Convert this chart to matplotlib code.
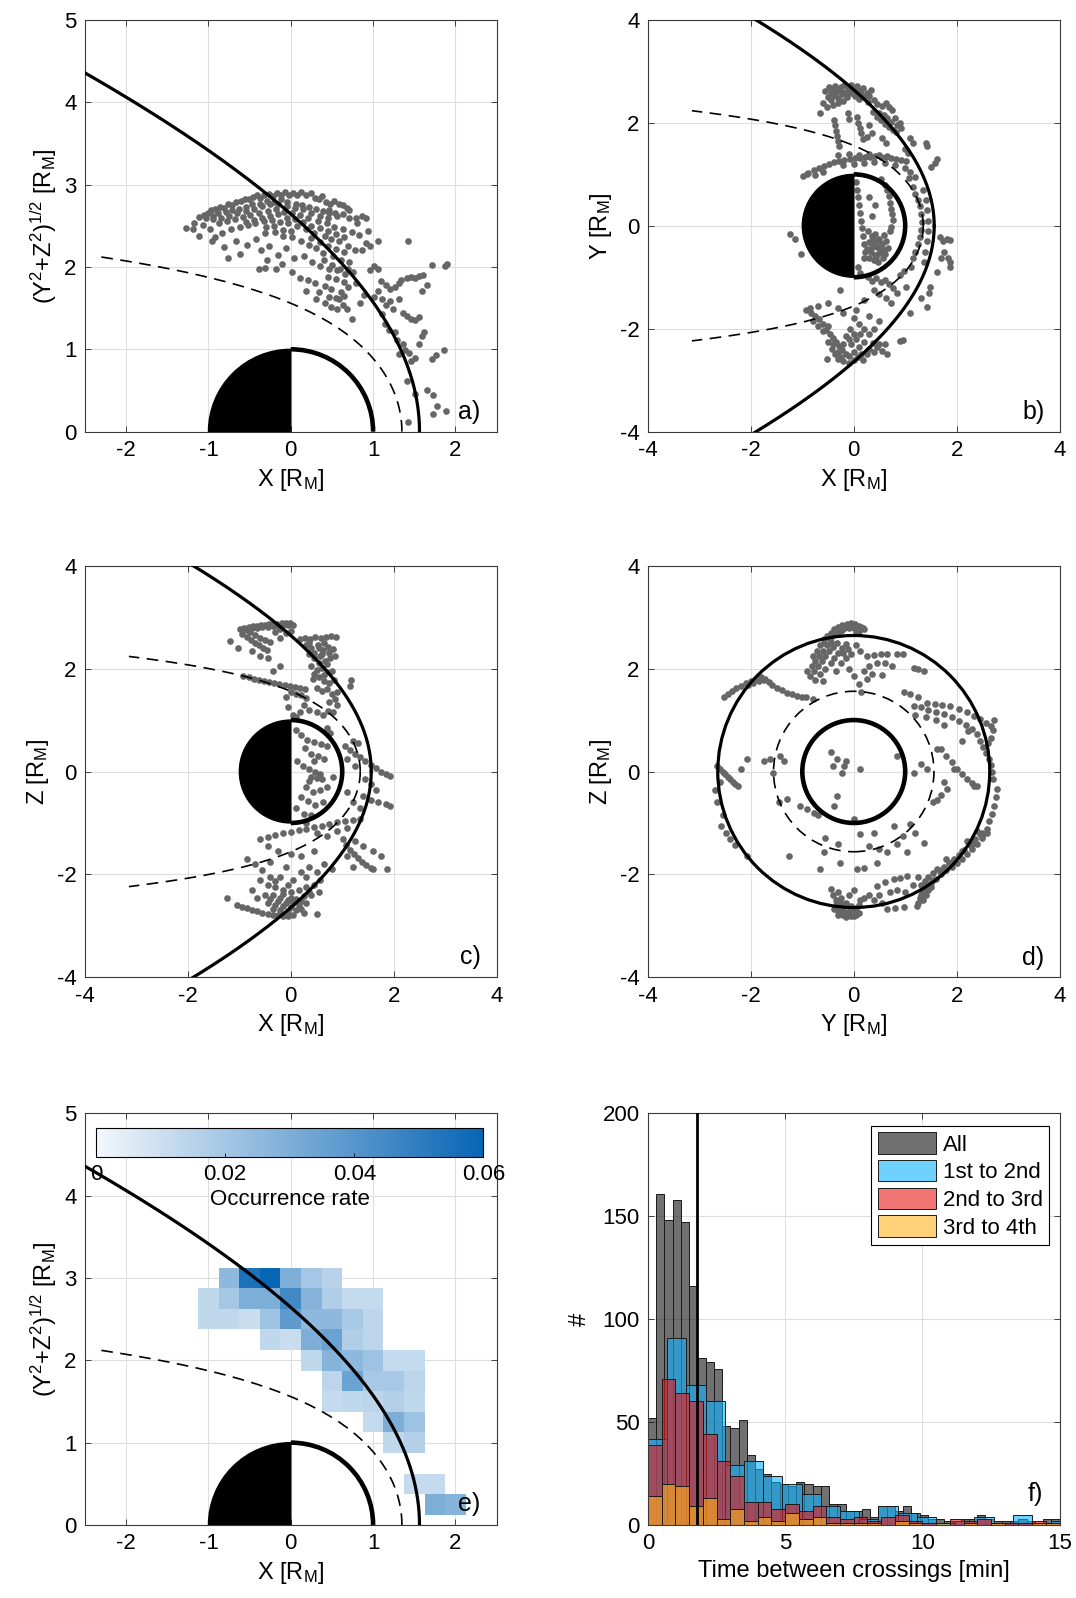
import numpy as np
import matplotlib
matplotlib.use('Agg')
import matplotlib.pyplot as plt
from matplotlib.patches import Wedge, Arc, Circle
from matplotlib.colors import LinearSegmentedColormap

plt.rcParams['font.family'] = ['Liberation Sans', 'DejaVu Sans']
plt.rcParams['mathtext.default'] = 'regular'
plt.rcParams['axes.unicode_minus'] = False

# ---- boundary model parameters (R_M) ----
bs_x0, bs_ecc, bs_L = 0.5, 1.04, 2.17          # bow shock conic
mp_x0, mp_r0, mp_alpha = 0.5, 0.85, 0.62       # magnetopause (Shue-type)

# ---- crossing locations: a) X vs sqrt(Y^2+Z^2) ----
pts_a = np.array([
    (-1.06, 2.63), (-1.01, 2.66), (-0.97, 2.69), (-0.92, 2.70), (-0.86, 2.73), (-0.81, 2.72),
    (-0.76, 2.76), (-0.71, 2.75), (-0.66, 2.79), (-0.61, 2.80), (-0.56, 2.83), (-0.51, 2.82),
    (-0.46, 2.85), (-0.41, 2.87), (-0.37, 2.84), (-0.32, 2.88), (-0.27, 2.89), (-0.22, 2.86),
    (-0.17, 2.90), (-0.12, 2.88), (-0.07, 2.91), (-0.02, 2.87), (0.03, 2.90), (0.08, 2.88),
    (0.13, 2.91), (0.18, 2.87), (0.24, 2.90), (0.29, 2.84), (0.34, 2.82), (0.38, 2.86),
    (0.43, 2.79), (0.48, 2.77), (0.53, 2.80), (0.58, 2.76), (0.64, 2.75), (0.68, 2.72),
    (-1.12, 2.61), (-1.03, 2.59), (-0.94, 2.62), (-0.88, 2.66), (-0.79, 2.67), (-0.72, 2.69),
    (-0.63, 2.71), (-0.54, 2.73), (-0.47, 2.76), (-0.38, 2.77), (-0.29, 2.80), (-0.21, 2.79),
    (-0.12, 2.82), (-0.04, 2.79), (0.06, 2.77), (0.14, 2.75), (0.22, 2.73), (0.31, 2.71),
    (0.39, 2.68), (0.47, 2.65), (0.56, 2.62), (0.63, 2.64), (0.71, 2.60), (0.79, 2.59),
    (0.86, 2.62), (0.91, 2.60),
    (-1.19, 2.46), (-1.07, 2.51), (-0.98, 2.46), (-0.87, 2.53), (-0.77, 2.56), (-0.68, 2.58),
    (-0.58, 2.61), (-0.49, 2.63), (-0.39, 2.66), (-0.28, 2.68), (-0.18, 2.71), (-0.08, 2.67),
    (0.02, 2.65), (0.11, 2.63), (0.21, 2.59), (0.33, 2.56), (0.44, 2.53), (0.53, 2.49),
    (0.63, 2.46), (0.74, 2.43), (0.83, 2.39),
    (-0.92, 2.36), (-0.83, 2.41), (-0.73, 2.46), (-0.62, 2.48), (-0.52, 2.51), (-0.43, 2.53),
    (-0.33, 2.56), (-0.23, 2.57), (-0.13, 2.55), (-0.03, 2.53), (0.08, 2.50), (0.18, 2.46),
    (0.28, 2.41), (0.41, 2.38), (0.49, 2.34), (0.58, 2.31), (0.69, 2.26), (0.78, 2.21),
    (-0.66, 2.31), (-0.53, 2.27), (-0.42, 2.34), (-0.31, 2.41), (-0.19, 2.43), (-0.09, 2.38),
    (0.01, 2.36), (0.12, 2.31), (0.22, 2.27), (0.31, 2.23), (0.39, 2.17), (0.51, 2.13),
    (0.61, 2.09), (0.71, 2.06),
    (-0.36, 2.21), (-0.26, 2.26), (-0.16, 2.14), (-0.06, 2.23), (0.04, 2.11), (0.16, 2.13),
    (0.26, 2.06), (0.36, 2.01), (0.46, 1.97), (0.56, 1.96), (0.66, 1.91), (0.76, 1.94),
    (-0.31, 1.99), (-0.18, 1.97), (0.01, 1.94), (0.11, 1.87), (0.21, 1.84), (0.29, 1.81),
    (0.41, 1.77), (0.49, 1.73), (0.61, 1.69), (0.69, 1.76), (0.79, 1.81),
    (0.31, 1.61), (0.41, 1.56), (0.49, 1.51), (0.59, 1.61), (0.68, 1.49), (0.74, 1.37),
    (0.84, 1.56), (0.89, 1.66),
    (-0.95, 2.58), (-0.85, 2.60), (-0.75, 2.62), (-0.65, 2.66), (-0.55, 2.68), (-0.45, 2.70),
    (-0.35, 2.74), (-0.25, 2.76), (-0.15, 2.76), (-0.05, 2.74), (0.05, 2.72), (0.15, 2.70),
    (0.25, 2.66), (0.35, 2.62), (0.45, 2.60), (-0.55, 2.55), (-0.45, 2.57), (-0.35, 2.60),
    (-0.25, 2.62), (-0.15, 2.64), (-0.05, 2.60), (0.05, 2.58), (0.15, 2.55), (0.25, 2.50),
    (0.35, 2.47), (0.45, 2.44), (0.55, 2.40), (0.65, 2.36), (0.25, 2.35), (0.35, 2.30),
    (0.45, 2.26), (0.55, 2.22), (0.65, 2.18), (0.40, 2.08), (0.50, 2.02), (0.60, 1.98),
    (0.70, 1.98), (0.45, 1.88), (0.55, 1.85), (0.65, 1.82), (0.55, 1.62), (0.65, 1.65),
    (-0.10, 2.45), (0.00, 2.44), (-0.20, 2.50), (-0.30, 2.48),
    (0.96, 1.96), (1.01, 2.01), (1.06, 1.97), (1.09, 1.83), (1.16, 1.78), (1.21, 1.73),
    (1.26, 1.76), (1.31, 1.81), (1.34, 1.84), (1.41, 1.86), (1.46, 1.88), (1.51, 1.87),
    (1.56, 1.89), (1.61, 1.90), (1.71, 2.02), (1.87, 2.01), (1.90, 2.03), (1.01, 1.64),
    (1.06, 1.71), (1.11, 1.61), (1.16, 1.54), (1.21, 1.59), (1.24, 1.49), (1.31, 1.61),
    (1.36, 1.44), (1.41, 1.41), (1.46, 1.37), (1.51, 1.36), (1.56, 1.39), (0.96, 2.26),
    (1.06, 2.31), (1.42, 2.31), (0.86, 2.21), (1.59, 1.71), (1.66, 1.78),
    (1.11, 1.43), (1.14, 1.31), (1.19, 1.24), (1.26, 1.21), (1.29, 1.11), (1.36, 1.06),
    (1.39, 0.99), (1.44, 0.96), (1.51, 0.89), (1.56, 1.06), (1.59, 1.16), (1.62, 1.21),
    (1.31, 0.94), (1.46, 0.86), (1.41, 0.61), (1.51, 0.46), (1.66, 0.51), (1.73, 0.44),
    (1.78, 0.31), (1.88, 0.25), (1.42, 0.12), (1.73, 0.21), (1.86, 0.99), (1.72, 0.88),
    (1.76, 0.93),
    (-1.27, 2.47), (-1.17, 2.53), (-1.11, 2.38), (-0.96, 2.31), (-0.81, 2.24), (-0.76, 2.11),
    (-0.62, 2.16), (-0.39, 1.97), (-0.29, 2.09), (-0.11, 2.04), (0.19, 1.71), (0.34, 1.69),
    (0.46, 1.64), (0.56, 1.49), (0.64, 1.54), (0.46, 2.69), (0.54, 2.66), (0.71, 2.69),
    (0.81, 2.54), (0.94, 2.44), (0.91, 2.29),
])

# ---- b) X vs Y ----
pts_b = np.array([
    (-0.55, 2.62), (-0.48, 2.70), (-0.42, 2.66), (-0.36, 2.72), (-0.30, 2.64), (-0.24, 2.70),
    (-0.18, 2.74), (-0.12, 2.68), (-0.06, 2.73), (0.00, 2.66), (0.06, 2.71), (0.12, 2.62),
    (0.18, 2.67), (0.25, 2.58), (0.30, 2.52), (0.34, 2.64), (-0.50, 2.50), (-0.44, 2.44),
    (-0.38, 2.55), (-0.30, 2.48), (-0.22, 2.56), (-0.14, 2.50), (-0.06, 2.58), (0.02, 2.52),
    (0.10, 2.46), (0.20, 2.50), (-0.60, 2.38), (-0.66, 2.20), (-0.52, 2.30), (0.40, 2.44),
    (0.46, 2.36), (0.55, 2.32), (0.62, 2.38), (0.68, 2.30), (0.75, 2.26),
    (-0.45, 2.58), (-0.35, 2.60), (-0.25, 2.62), (-0.15, 2.60), (-0.05, 2.64), (0.05, 2.60),
    (0.15, 2.56), (-0.40, 2.35), (-0.30, 2.38), (-0.20, 2.42), (0.28, 2.40), (0.50, 2.20),
    (0.58, 2.15), (0.65, 2.10), (0.72, 2.02), (0.80, 2.10), (0.85, 1.95),
    (-0.38, 2.05), (-0.36, 1.95), (-0.34, 1.85), (-0.32, 1.75), (-0.30, 1.65), (-0.28, 1.56),
    (0.06, 2.12), (0.09, 2.00), (0.12, 1.90), (0.15, 1.80), (0.18, 1.68), (-0.12, 2.20),
    (-0.10, 2.08), (0.38, 2.22), (0.45, 2.12), (0.52, 2.05), (0.60, 1.98), (0.68, 1.92),
    (0.76, 1.86), (0.83, 1.82), (0.90, 2.00), (0.92, 1.90), (1.16, 1.60), (1.10, 1.70),
    (1.40, 1.60), (1.43, 1.55), (1.62, 1.30), (1.58, 1.22), (1.50, 1.15), (0.30, 1.95),
    (0.36, 1.80), (0.25, 1.72), (0.55, 1.70), (0.62, 1.60), (1.00, 1.50), (1.05, 1.42),
    (-0.98, 0.96), (-0.88, 1.02), (-0.78, 1.08), (-0.68, 1.12), (-0.58, 1.16), (-0.48, 1.20),
    (-0.38, 1.24), (-0.28, 1.26), (-0.18, 1.28), (-0.08, 1.30), (0.02, 1.31), (0.12, 1.32),
    (0.22, 1.33), (0.32, 1.34), (0.42, 1.35), (0.52, 1.34), (0.62, 1.33), (0.72, 1.32),
    (0.82, 1.30), (0.92, 1.28), (1.02, 1.26), (-0.30, 1.38), (-0.10, 1.40), (0.10, 1.38),
    (0.30, 1.40), (0.50, 1.38), (0.64, 1.36), (-0.20, 1.18), (0.00, 1.20), (0.20, 1.22),
    (0.40, 1.24), (0.60, 1.22), (0.80, 1.18), (1.00, 1.12), (1.10, 1.05), (1.20, 0.95),
    (-0.60, 1.05), (-0.75, 0.98),
    (0.05, 0.85), (0.06, 0.70), (0.08, 0.55), (0.10, 0.40), (0.12, 0.25), (0.14, 0.10),
    (0.16, -0.05), (0.18, -0.20), (0.20, -0.35), (0.22, -0.50), (0.20, -0.62), (0.08, -0.80),
    (0.12, -0.92), (0.68, 0.57), (0.70, 0.45), (0.72, 0.33), (0.74, 0.22), (0.76, 0.11),
    (0.72, -0.02), (0.65, 0.70), (0.60, 0.80), (0.52, 0.90),
    (0.28, -0.10), (0.35, -0.20), (0.42, -0.15), (0.50, -0.25), (0.58, -0.18), (0.30, -0.32),
    (0.38, -0.38), (0.46, -0.42), (0.54, -0.36), (0.62, -0.30), (0.34, -0.50), (0.42, -0.56),
    (0.50, -0.52), (0.58, -0.48), (0.66, -0.44), (0.40, -0.66), (0.48, -0.70), (0.56, -0.62),
    (0.30, -0.62), (0.26, -0.45), (0.70, -0.10), (0.36, 0.20), (0.42, 0.40), (0.30, 0.55),
    (0.45, -0.30), (0.52, -0.45), (0.38, -0.25), (0.60, -0.55), (0.44, -0.60), (0.36, -0.42),
    (1.16, 0.76), (1.20, 0.62), (1.24, 0.50), (1.28, 0.38), (1.30, 0.22), (1.32, 0.08),
    (1.30, -0.08), (1.28, -0.22), (1.25, -0.36), (1.20, -0.50), (1.16, -0.62), (1.40, 0.50),
    (1.42, 0.30), (1.44, 0.10), (1.44, -0.10), (1.42, -0.30), (1.38, -0.50), (1.08, 0.92),
    (1.12, -0.80), (1.34, 0.70), (1.36, -0.70),
    (1.67, -0.21), (1.74, -0.30), (1.82, -0.26), (1.88, -0.28), (1.76, -0.50), (1.84, -0.62),
    (1.88, -0.80), (1.88, -0.70), (1.70, -0.62), (1.62, -0.90),
    (0.28, -1.00), (0.36, -1.08), (0.44, -1.02), (0.52, -1.10), (0.60, -1.06), (0.68, -1.14),
    (0.76, -1.20), (0.84, -1.30), (0.40, -1.25), (0.50, -1.32), (0.62, -1.40), (0.72, -1.50),
    (0.90, -0.95), (0.98, -0.88), (-0.27, -1.25), (0.05, -1.64), (1.43, -1.57), (1.49, -1.19),
    (1.30, -1.40), (1.10, -1.70), (1.46, -1.30), (1.02, -1.18),
    (-0.92, -1.64), (-0.84, -1.70), (-0.76, -1.76), (-0.68, -1.82), (-0.60, -1.90), (-0.80, -1.85),
    (-0.70, -1.95), (-0.53, -2.02), (-0.46, -2.10), (-0.40, -2.18), (-0.34, -2.26), (-0.28, -2.34),
    (-0.22, -2.42), (-0.16, -2.50), (-0.10, -2.54), (-0.50, -2.25), (-0.42, -2.40), (-0.36, -2.50),
    (-0.30, -2.58), (-0.20, -2.62), (-0.10, -2.66), (0.00, -2.60), (0.08, -2.55), (0.18, -2.60),
    (0.25, -2.50), (0.00, -2.45), (-0.05, -2.30), (0.05, -2.20), (0.12, -2.10), (0.20, -2.00),
    (0.10, -1.90), (0.00, -1.80), (-0.08, -2.00), (-0.15, -2.15), (0.38, -2.28), (0.46, -2.36),
    (0.54, -2.44), (0.60, -2.30), (0.64, -2.50), (0.30, -2.40), (0.96, -2.22), (0.90, -2.24),
    (-0.52, -2.58), (0.40, -2.00), (0.50, -1.85), (0.30, -1.75), (-0.20, -1.70), (-0.30, -1.60),
    (0.20, -1.45), (-0.50, -1.50),
    (-0.40, -2.30), (-0.30, -2.45), (-0.20, -2.30), (-0.10, -2.20), (0.00, -2.10), (0.10, -2.35),
    (0.20, -2.25), (-0.60, -2.05), (-0.50, -1.95), (0.30, -2.10), (0.40, -2.45), (0.50, -2.30),
    (0.15, -2.50), (-0.25, -2.55),
    (-1.24, -0.15), (-1.15, -0.25), (-1.02, -0.55), (-0.90, 1.00), (-0.70, -1.55), (-0.85, -1.60),
])

# ---- c) X vs Z ----
pts_c = np.array([
    (-0.98, 2.76), (-0.90, 2.78), (-0.82, 2.80), (-0.74, 2.82), (-0.66, 2.83), (-0.58, 2.84),
    (-0.50, 2.85), (-0.42, 2.86), (-0.34, 2.86), (-0.26, 2.87), (-0.18, 2.88), (-0.10, 2.88),
    (-0.02, 2.89), (0.05, 2.85), (-0.94, 2.68), (-0.86, 2.62), (-0.78, 2.55), (-0.70, 2.50),
    (-0.62, 2.45), (-0.54, 2.40), (-0.47, 2.36), (-0.80, 2.72), (-0.70, 2.66), (-0.60, 2.60),
    (-0.50, 2.56), (-0.40, 2.52), (-0.30, 2.72), (-0.20, 2.76), (-0.10, 2.70), (0.00, 2.74),
    (-1.18, 2.54), (-0.76, 2.34), (-1.02, 2.40), (-0.60, 2.25), (-0.45, 2.20), (-0.20, 2.60),
    (-0.85, 2.75), (-0.75, 2.78), (-0.65, 2.78), (-0.55, 2.80), (-0.45, 2.80), (-0.35, 2.82),
    (-0.25, 2.83), (-0.15, 2.84), (-0.05, 2.84),
    (0.18, 2.57), (0.28, 2.60), (0.38, 2.58), (0.48, 2.62), (0.58, 2.60), (0.68, 2.62),
    (0.78, 2.63), (0.88, 2.61), (0.30, 2.45), (0.40, 2.40), (0.52, 2.46), (0.62, 2.36),
    (0.72, 2.42), (0.82, 2.38), (0.36, 2.28), (0.46, 2.20), (0.56, 2.24), (0.66, 2.14),
    (0.76, 2.20), (0.86, 2.25), (0.40, 2.05), (0.50, 1.98), (0.60, 2.02), (0.70, 1.94),
    (0.80, 1.96), (0.44, 1.80), (0.54, 1.84), (0.64, 1.76), (0.74, 1.72), (0.84, 1.78),
    (0.50, 1.62), (0.60, 1.56), (0.70, 1.60), (0.80, 1.50), (0.90, 1.55), (1.15, 1.66),
    (1.18, 1.78), (0.85, 1.40), (0.75, 1.35),
    (0.35, 2.50), (0.45, 2.30), (0.55, 2.40), (0.65, 2.50), (0.75, 2.30), (0.60, 2.28),
    (0.70, 2.08), (0.55, 2.10), (0.65, 1.88), (0.45, 1.90),
    (-0.92, 1.86), (-0.82, 1.84), (-0.72, 1.80), (-0.62, 1.78), (-0.52, 1.76), (-0.42, 1.74),
    (-0.32, 1.72), (-0.22, 1.70), (-0.12, 1.68), (-0.02, 1.66), (0.08, 1.64), (0.18, 1.62),
    (0.28, 1.60), (0.00, 1.55), (0.10, 1.50), (0.20, 1.48), (-0.10, 1.45), (0.30, 1.42),
    (0.25, 1.30), (0.35, 1.20), (-0.05, 1.25), (0.05, 1.10), (0.10, 1.05), (0.18, 1.15),
    (0.50, 1.15), (0.62, 1.10), (0.72, 1.18), (0.83, 1.16), (0.90, 1.30), (-0.35, 1.95),
    (-0.20, 2.05),
    (0.10, 0.80), (0.20, 0.70), (0.32, 0.62), (0.46, 0.58), (0.58, 0.54), (0.70, 0.50),
    (0.28, 0.45), (0.40, 0.35), (0.52, 0.30), (0.64, 0.25), (0.12, 0.20), (0.24, 0.10),
    (0.36, 0.05), (0.48, 0.00), (0.56, -0.05), (0.40, -0.10), (0.50, -0.12), (0.60, -0.15),
    (0.30, -0.30), (0.44, -0.40), (0.56, -0.35), (0.70, -0.30), (0.82, -0.10), (0.20, -0.50),
    (0.34, -0.58), (0.48, -0.65), (0.62, -0.60), (0.10, -0.70), (0.26, -0.82), (0.40, -0.85),
    (0.76, 0.75), (0.70, 0.85), (0.45, 0.20), (0.35, -0.18),
    (1.05, 0.50), (1.15, 0.42), (1.25, 0.35), (1.35, 0.28), (1.45, 0.20), (1.55, 0.12),
    (1.65, 0.06), (1.75, 0.00), (1.85, -0.04), (1.93, -0.08), (1.20, 0.60), (1.30, 0.55),
    (1.10, 0.25), (1.25, 0.10), (1.45, -0.15), (1.55, -0.25), (1.65, -0.35), (1.41, -0.47),
    (1.55, -0.55), (1.70, -0.60), (1.85, -0.63), (1.93, -0.67), (1.20, -0.60), (1.35, -0.70),
    (1.10, -0.40),
    (-0.60, -1.31), (-0.45, -1.28), (-0.30, -1.24), (-0.15, -1.20), (0.00, -1.17), (0.15, -1.14),
    (0.30, -1.11), (0.45, -1.08), (0.60, -1.05), (0.75, -1.02), (0.90, -0.99), (1.05, -0.96),
    (1.20, -0.94), (1.35, -0.93), (0.50, -1.20), (0.70, -1.25), (0.90, -1.15), (1.10, -1.10),
    (0.30, -1.00),
    (1.02, -1.31), (1.08, -1.42), (1.15, -1.52), (1.22, -1.60), (1.30, -1.68), (1.38, -1.75),
    (1.46, -1.82), (1.55, -1.88), (1.60, -1.90), (1.87, -1.90), (1.60, -1.55), (1.40, -1.45),
    (1.25, -1.35), (1.10, -1.65), (1.20, -1.85), (1.75, -1.65),
    (-0.86, -1.70), (-0.70, -1.80), (-0.55, -1.92), (-0.40, -2.05), (-0.60, -2.10), (-0.45, -2.20),
    (-0.30, -2.25), (-0.15, -2.30), (0.00, -2.35), (0.15, -2.30), (0.30, -2.25), (0.45, -2.20),
    (0.57, -2.10), (-0.35, -2.40), (-0.20, -2.45), (-0.05, -2.50), (0.10, -2.48), (0.25, -2.42),
    (0.40, -2.40), (0.55, -2.35), (-0.45, -2.55), (-0.30, -2.60), (-0.15, -2.62), (0.00, -2.64),
    (0.15, -2.60), (0.30, -2.55), (-1.05, -2.60), (-0.95, -2.63), (-0.85, -2.66), (-0.75, -2.69),
    (-0.65, -2.72), (-0.55, -2.74), (-0.45, -2.76), (-0.35, -2.78), (-0.25, -2.79), (-0.15, -2.80),
    (-0.05, -2.80), (0.05, -2.78), (0.25, -2.75), (0.50, -2.77), (-1.24, -2.45), (-0.75, -2.30),
    (-0.65, -2.45), (-0.20, -2.05), (0.05, -2.10), (0.20, -1.95), (-0.10, -1.85), (-0.40, -1.75),
    (0.35, -1.85), (0.50, -1.95), (0.65, -1.80), (0.80, -1.90), (-0.25, -1.55), (0.00, -1.60),
    (0.20, -1.65), (-0.45, -1.45), (0.45, -1.55),
    (-0.50, -2.40), (-0.40, -2.48), (-0.25, -2.52), (-0.10, -2.56), (0.05, -2.56), (0.20, -2.52),
    (-0.35, -2.68), (-0.20, -2.70), (-0.05, -2.72), (0.10, -2.70), (0.20, -2.68), (-0.15, -2.38),
    (0.00, -2.45), (0.35, -2.35), (-0.30, -2.12), (-0.05, -2.20), (0.30, -2.05),
])

# ---- d) Y vs Z ----
pts_d = np.array([
    (-0.52, 2.64), (-0.45, 2.70), (-0.38, 2.76), (-0.30, 2.81), (-0.22, 2.85), (-0.14, 2.87),
    (-0.06, 2.88), (0.02, 2.86), (0.10, 2.83), (0.18, 2.79), (-0.48, 2.60), (-0.40, 2.66),
    (-0.30, 2.72), (-0.20, 2.76), (-0.10, 2.79), (0.00, 2.78), (0.10, 2.74), (0.20, 2.76),
    (-0.58, 2.58), (0.05, 2.70),
    (-0.45, 2.62), (-0.35, 2.70), (-0.25, 2.74), (-0.15, 2.80), (-0.05, 2.83), (0.05, 2.82),
    (0.15, 2.80), (-0.80, 2.25), (-0.72, 2.35), (-0.65, 2.45), (-0.58, 2.50), (-0.75, 1.78),
    (-0.20, 2.30), (-0.12, 2.38),
    (-0.90, 1.95), (-0.82, 2.05), (-0.75, 2.15), (-0.68, 2.25), (-0.60, 2.35), (-0.52, 2.45),
    (-0.45, 2.52), (-0.85, 1.85), (-0.78, 1.95), (-0.70, 2.05), (-0.62, 2.15), (-0.55, 2.25),
    (-0.48, 2.35), (-0.40, 2.42), (-0.33, 2.50), (-0.65, 1.90), (-0.55, 2.00), (-0.45, 2.10),
    (-0.38, 2.20), (-0.30, 2.30), (-0.22, 2.40), (-0.15, 2.48), (-0.25, 2.10), (-0.15, 2.20),
    (-0.05, 2.28), (-0.35, 1.95), (-0.10, 2.00), (0.00, 1.85), (-0.60, 1.75), (-0.92, 1.45),
    (-0.80, 1.40), (0.05, 2.45), (0.12, 2.35),
    (0.26, 2.25), (0.40, 2.27), (0.52, 2.28), (0.65, 2.28), (0.84, 2.28), (0.95, 2.28),
    (1.17, 2.02), (1.25, 2.00), (1.36, 1.96), (0.30, 2.05), (0.45, 2.10), (0.60, 2.10),
    (0.75, 2.05), (0.20, 1.95), (0.35, 1.90), (0.55, 1.88), (0.10, 1.70), (0.25, 1.80),
    (0.15, 1.55),
    (-2.53, 1.44), (-2.45, 1.50), (-2.37, 1.56), (-2.29, 1.62), (-2.20, 1.67), (-2.10, 1.72),
    (-2.00, 1.76), (-1.90, 1.80), (-1.81, 1.83), (-1.72, 1.80), (-1.65, 1.74), (-1.58, 1.68),
    (-1.49, 1.63), (-1.40, 1.58), (-1.30, 1.53), (-1.20, 1.50), (-1.10, 1.47), (-1.00, 1.44),
    (-2.05, 1.68), (-1.95, 1.72), (-1.85, 1.76), (-1.75, 1.78),
    (0.97, 1.54), (1.10, 1.50), (1.25, 1.45), (1.43, 1.34), (1.58, 1.32), (1.72, 1.30),
    (1.88, 1.28), (2.05, 1.22), (2.20, 1.15), (2.33, 1.08), (2.46, 1.02), (2.58, 0.95),
    (2.66, 0.89), (1.17, 1.28), (1.30, 1.25), (1.45, 1.20), (1.60, 1.15), (1.75, 1.12),
    (1.90, 1.05), (2.05, 0.98), (2.18, 0.90), (2.30, 0.82), (2.40, 0.72), (2.45, 0.60),
    (2.52, 0.48), (2.58, 0.36), (2.62, 0.24), (2.66, 0.12), (2.68, 0.00), (2.70, -0.15),
    (2.72, 1.00), (2.70, 0.80), (2.66, 0.65), (2.60, 0.55), (2.22, 0.78), (2.10, 0.60),
    (1.60, 1.00), (1.75, 0.90), (1.20, 1.10), (1.40, 1.05),
    (2.79, -0.34), (2.76, -0.50), (2.72, -0.67), (2.68, -0.82), (2.63, -0.97), (2.59, -1.12),
    (2.50, -1.25),
    (1.69, 0.43), (1.80, 0.30), (1.90, 0.18), (2.00, 0.05), (2.10, -0.05), (2.20, -0.15),
    (2.30, -0.22), (2.40, -0.28), (1.75, -0.20), (1.81, -0.34), (1.70, -0.45), (1.62, -0.55),
    (1.55, -0.60), (1.62, 0.43), (1.94, 0.05), (2.33, -0.28), (1.43, 0.05), (1.17, -0.02),
    (0.84, 0.30), (1.30, 0.15),
    (2.59, -1.19), (2.50, -1.30), (2.40, -1.40), (2.30, -1.50), (2.20, -1.60), (2.10, -1.70),
    (2.00, -1.78), (1.90, -1.85), (1.80, -1.92), (1.70, -2.00), (1.60, -2.08), (1.50, -2.16),
    (1.40, -2.25), (1.33, -2.35), (1.28, -2.45), (1.25, -2.55), (1.23, -2.61), (2.45, -1.22),
    (2.35, -1.32), (2.25, -1.42), (2.15, -1.52), (2.05, -1.62), (1.95, -1.70), (1.85, -1.78),
    (1.75, -1.85), (1.65, -1.92), (1.55, -1.98), (1.45, -2.05), (1.38, -2.12), (1.30, -2.20),
    (1.35, -2.50), (1.40, -2.40), (1.45, -2.30), (1.62, -1.90), (1.80, -1.70), (2.40, -1.15),
    (2.20, -1.35), (1.25, -2.05), (1.15, -2.20),
    (1.30, -2.40), (1.38, -2.30), (1.50, -2.25), (1.55, -2.10), (1.70, -1.95), (1.90, -1.75),
    (2.10, -1.55), (2.30, -1.40), (2.50, -1.20),
    (-0.45, -2.29), (-0.40, -2.40), (-0.35, -2.50), (-0.30, -2.58), (-0.25, -2.65), (-0.20, -2.70),
    (-0.15, -2.75), (-0.10, -2.79), (-0.05, -2.81), (0.00, -2.80), (0.05, -2.78), (0.10, -2.74),
    (-0.39, -2.68), (-0.30, -2.72), (-0.20, -2.78), (-0.10, -2.74), (0.00, -2.70), (-0.25, -2.45),
    (-0.15, -2.55), (-0.05, -2.62), (0.10, -2.60), (0.13, -2.50), (-0.10, -2.40), (0.00, -2.30),
    (-0.30, -2.35), (0.20, -2.45), (0.30, -2.40),
    (-0.35, -2.60), (-0.25, -2.55), (-0.20, -2.62), (-0.08, -2.68), (0.05, -2.65), (-0.30, -2.78),
    (-0.15, -2.82), (0.05, -2.72),
    (0.45, -2.22), (0.60, -2.15), (0.78, -2.09), (0.90, -2.06), (1.04, -2.03), (0.50, -2.40),
    (0.65, -2.68), (0.80, -2.66), (0.97, -2.64), (0.40, -2.50), (0.55, -2.55), (0.70, -2.35),
    (0.85, -2.30), (1.00, -2.35),
    (-0.65, -1.90), (-0.58, -1.57), (-0.26, -1.77), (0.06, -1.90), (0.20, -1.88), (0.45, -1.77),
    (0.65, -1.57), (1.04, -1.57), (1.36, -1.38), (0.78, -1.06), (1.10, -1.02), (0.13, -1.22),
    (0.30, -1.45), (0.50, -1.50), (0.85, -1.40), (0.95, -1.25), (-0.30, -1.40), (-0.55, -1.30),
    (1.20, -1.20), (0.40, -1.20),
    (-2.66, 0.11), (-2.60, 0.05), (-2.55, 0.00), (-2.50, -0.05), (-2.45, -0.10), (-2.40, -0.15),
    (-2.35, -0.20), (-2.30, -0.25), (-2.25, -0.28), (-2.20, 0.05), (-2.66, -0.60), (-2.59, -1.06),
    (-2.55, -0.85), (-2.48, -1.20), (-2.40, -1.32), (-2.30, -1.42), (-2.07, -1.64), (-2.70, -0.35),
    (-2.60, -0.20),
    (-1.62, 0.24), (-1.43, 0.30), (-1.75, 0.21), (-1.56, -0.02), (-1.30, -0.54), (-1.04, -0.67),
    (-0.91, -0.73), (-0.78, -0.80), (-1.26, -1.64), (-2.07, 0.24), (-1.35, 0.20), (-1.45, -0.60),
    (-0.70, -0.85),
    (-0.45, 0.37), (-0.32, 0.24), (-0.19, 0.11), (-0.23, -0.02), (0.13, 0.05), (-0.32, -0.47),
    (-0.39, -0.67), (0.00, -0.93), (-0.40, 0.10), (-0.15, 0.20),
])

# ---- e) occurrence rate per 0.25 x 0.25 R_M cell (cell centres) ----
occ_x = [-0.75, -0.5, -0.25, 0.0, 0.25, 0.5,
         -1.0, -0.75, -0.5, -0.25, 0.0, 0.25, 0.5, 0.75, 1.0,
         -1.0, -0.75, -0.5, -0.25, 0.0, 0.25, 0.5, 0.75, 1.0,
         -0.25, 0.0, 0.25, 0.5, 0.75, 1.0,
         0.25, 0.5, 0.75, 1.0, 1.25, 1.5,
         0.5, 0.75, 1.0, 1.25, 1.5,
         0.5, 0.75, 1.0, 1.25, 1.5,
         1.0, 1.25, 1.5,
         1.25, 1.5,
         1.5, 1.75,
         1.75, 2.0]
occ_y = [3.0] * 6 + [2.75] * 9 + [2.5] * 9 + [2.25] * 6 + [2.0] * 6 + [1.75] * 5 \
    + [1.5] * 5 + [1.25] * 3 + [1.0] * 2 + [0.5] * 2 + [0.25] * 2
occ_rate = [0.026, 0.055, 0.060, 0.030, 0.020, 0.015,
            0.013, 0.020, 0.030, 0.030, 0.045, 0.028, 0.017, 0.012, 0.012,
            0.013, 0.013, 0.011, 0.022, 0.038, 0.026, 0.026, 0.019, 0.014,
            0.013, 0.011, 0.030, 0.035, 0.017, 0.014,
            0.013, 0.028, 0.026, 0.022, 0.012, 0.012,
            0.014, 0.035, 0.019, 0.019, 0.014,
            0.012, 0.013, 0.014, 0.016, 0.013,
            0.012, 0.030, 0.022,
            0.013, 0.016,
            0.012, 0.012,
            0.030, 0.028]

# ---- f) histograms of time between crossings [min] ----
bw_all, bw_12, bw_23, bw_34 = 0.3, 0.7, 0.5, 0.5
n_all = [52, 161, 148, 158, 147, 116, 81, 79, 76, 48, 47, 51, 34, 27, 25, 21, 20, 19, 21, 20,
         19, 19, 10, 10, 7, 7, 8, 4, 9, 9, 7, 9, 6, 5, 3, 3, 2, 2, 3, 3,
         5, 3, 2, 2, 2, 3, 2, 1, 3, 3]
n_12 = [42, 91, 68, 60, 29, 31, 24, 20, 15, 9, 7, 3, 9, 6, 4, 1, 2, 4, 1, 5, 1, 2]
n_23 = [39, 71, 64, 60, 44, 31, 24, 11, 11, 8, 10, 7, 9, 4, 3, 4, 2, 4, 5, 2,
        1, 0, 3, 2, 3, 1, 1, 1, 2, 1]
n_34 = [14, 20, 19, 9, 13, 3, 8, 2, 4, 2, 6, 3, 4, 1, 1, 1, 1, 0, 2, 1,
        0, 1, 0, 1, 0, 1, 0, 0, 1, 1]
t_median = 1.8

FS = 16
LFS = 17
DOT = (0.4, 0.4, 0.4)
MS = 4.8


def bow_shock():
    th = np.linspace(0, np.radians(150), 400)
    r = bs_L / (1 + bs_ecc * np.cos(th))
    return bs_x0 + r * np.cos(th), r * np.sin(th)


def magnetopause(xmin):
    th = np.linspace(0, np.radians(165), 600)
    r = mp_r0 * (2 / (1 + np.cos(th))) ** mp_alpha
    x = mp_x0 + r * np.cos(th)
    y = r * np.sin(th)
    keep = x >= xmin
    return x[keep], y[keep]


def style(ax, xlim, ylim, xticks, yticks):
    ax.set_xlim(xlim)
    ax.set_ylim(ylim)
    ax.set_xticks(xticks)
    ax.set_yticks(yticks)
    ax.grid(True, color='#dedede', linewidth=0.8)
    ax.set_axisbelow(True)
    ax.tick_params(direction='in', top=True, right=True, length=4, width=0.6,
                   labelsize=FS, color='#262626', pad=6)
    for s in ax.spines.values():
        s.set_color('#3a3a3a')
        s.set_linewidth(0.8)


def draw_boundaries(ax, mirror, mp_xmin):
    bx, by = bow_shock()
    mx, my = magnetopause(mp_xmin)
    ax.plot(bx, by, color='k', lw=2.3, zorder=5)
    ax.plot(mx, my, color='k', lw=1.2, ls=(0, (7, 4.5)), zorder=5)
    if mirror:
        ax.plot(bx, -by, color='k', lw=2.3, zorder=5)
        ax.plot(mx, -my, color='k', lw=1.2, ls=(0, (7, 4.5)), zorder=5)


def planet_half(ax):
    ax.add_patch(Wedge((0, 0), 1, 90, 180, facecolor='k', edgecolor='k', lw=1, zorder=3))
    ax.add_patch(Arc((0, 0), 2, 2, theta1=0, theta2=90, color='k', lw=3.3, zorder=4))


def planet_full(ax):
    ax.add_patch(Wedge((0, 0), 1, 90, 270, facecolor='k', edgecolor='k', lw=1, zorder=3))
    ax.add_patch(Arc((0, 0), 2, 2, theta1=-90, theta2=90, color='k', lw=3.3, zorder=4))


xl = 'X [R$_M$]'
rl = '(Y$^2$+Z$^2$)$^{1/2}$ [R$_M$]'

fig = plt.figure(figsize=(10.76, 15.98), dpi=100)
L, R, W = 0.0790, 0.6022, 0.3825
rows = [0.7299, 0.3884, 0.0457]
H = 0.2576
axa = fig.add_axes([L, rows[0], W, H])
axb = fig.add_axes([R, rows[0], W, H])
axc = fig.add_axes([L, rows[1], W, H])
axd = fig.add_axes([R, rows[1], W, H])
axe = fig.add_axes([L, rows[2], W, H])
axf = fig.add_axes([R, rows[2], W, H])

# a)
axa.plot(pts_a[:, 0], pts_a[:, 1], 'o', color=DOT, ms=MS, mec='none', zorder=2)
planet_half(axa)
draw_boundaries(axa, False, -2.36)
style(axa, (-2.5, 2.5), (0, 5), [-2, -1, 0, 1, 2], [0, 1, 2, 3, 4, 5])
axa.set_xlabel(xl, fontsize=LFS)
axa.set_ylabel(rl, fontsize=LFS)
axa.text(2.03, 0.24, 'a)', fontsize=18, va='center')

# b)
axb.plot(pts_b[:, 0], pts_b[:, 1], 'o', color=DOT, ms=MS, mec='none', zorder=2)
planet_full(axb)
draw_boundaries(axb, True, -3.15)
style(axb, (-4, 4), (-4, 4), [-4, -2, 0, 2, 4], [-4, -2, 0, 2, 4])
axb.set_xlabel(xl, fontsize=LFS)
axb.set_ylabel('Y [R$_M$]', fontsize=LFS)
axb.text(3.28, -3.62, 'b)', fontsize=18, va='center')

# c)
axc.plot(pts_c[:, 0], pts_c[:, 1], 'o', color=DOT, ms=MS, mec='none', zorder=2)
planet_full(axc)
draw_boundaries(axc, True, -3.15)
style(axc, (-4, 4), (-4, 4), [-4, -2, 0, 2, 4], [-4, -2, 0, 2, 4])
axc.set_xlabel(xl, fontsize=LFS)
axc.set_ylabel('Z [R$_M$]', fontsize=LFS)
axc.text(3.28, -3.6, 'c)', fontsize=18, va='center')

# d) terminator plane
bx, by = bow_shock()
mx, my = magnetopause(-3.15)
r_bs0 = np.interp(0.0, bx[::-1], by[::-1])
r_mp0 = np.interp(0.0, mx[::-1], my[::-1])
axd.plot(pts_d[:, 0], pts_d[:, 1], 'o', color=DOT, ms=MS, mec='none', zorder=2)
axd.add_patch(Circle((0, 0), 1, fill=False, color='k', lw=3.3, zorder=4))
axd.add_patch(Circle((0, 0), r_mp0, fill=False, color='k', lw=1.2, ls=(0, (7, 4.5)), zorder=5))
axd.add_patch(Circle((0, 0), r_bs0, fill=False, color='k', lw=2.3, zorder=5))
style(axd, (-4, 4), (-4, 4), [-4, -2, 0, 2, 4], [-4, -2, 0, 2, 4])
axd.set_xlabel('Y [R$_M$]', fontsize=LFS)
axd.set_ylabel('Z [R$_M$]', fontsize=LFS)
axd.text(3.28, -3.62, 'd)', fontsize=18, va='center')

# e) occurrence map
cmap = LinearSegmentedColormap.from_list('occ', ['#f3f7fc', '#0865b4'])
xe = np.arange(-1.125, 2.126, 0.25)
ye = np.arange(0.125, 3.126, 0.25)
grid = np.full((len(ye) - 1, len(xe) - 1), np.nan)
for cx, cy, v in zip(occ_x, occ_y, occ_rate):
    i = int(round((cy - 0.25) / 0.25))
    j = int(round((cx + 1.0) / 0.25))
    grid[i, j] = v
mesh = axe.pcolormesh(xe, ye, np.ma.masked_invalid(grid), cmap=cmap, vmin=0, vmax=0.06, zorder=1)
planet_half(axe)
draw_boundaries(axe, False, -2.36)
style(axe, (-2.5, 2.5), (0, 5), [-2, -1, 0, 1, 2], [0, 1, 2, 3, 4, 5])
axe.set_xlabel(xl, fontsize=LFS)
axe.set_ylabel(rl, fontsize=LFS)
axe.text(2.03, 0.26, 'e)', fontsize=18, va='center', zorder=6)
cax = axe.inset_axes([0.027, 0.893, 0.941, 0.072])
cb = fig.colorbar(mesh, cax=cax, orientation='horizontal')
cb.set_ticks([0, 0.02, 0.04, 0.06])
cb.set_ticklabels(['0', '0.02', '0.04', '0.06'])
cb.ax.tick_params(direction='in', length=3, labelsize=FS, width=0.6, pad=5)
cb.outline.set_linewidth(0.8)
cb.set_label('Occurrence rate', fontsize=FS, labelpad=3)

# f) histograms
series = [
    (n_all, bw_all, (0.07, 0.07, 0.07, 0.6), 'All'),
    (n_12, bw_12, (0.05, 0.70, 1.0, 0.6), '1st to 2nd'),
    (n_23, bw_23, (0.90, 0.10, 0.10, 0.6), '2nd to 3rd'),
    (n_34, bw_34, (1.0, 0.70, 0.12, 0.6), '3rd to 4th'),
]
for counts, bw, col, lab in series:
    left = np.arange(len(counts)) * bw
    axf.bar(left, counts, width=bw, align='edge', color=col, edgecolor=(0.1, 0.1, 0.1),
            linewidth=0.7, label=lab, zorder=2)
axf.axvline(t_median, color='k', lw=2, zorder=4)
style(axf, (0, 15), (0, 200), [0, 5, 10, 15], [0, 50, 100, 150, 200])
axf.set_xlabel('Time between crossings [min]', fontsize=LFS)
axf.set_ylabel('#', fontsize=LFS, labelpad=8)
axf.text(13.85, 9, 'f)', fontsize=18, va='bottom')
leg = axf.legend(loc='upper right', bbox_to_anchor=(0.975, 0.97), fontsize=FS, fancybox=False,
                 edgecolor='k', framealpha=1, handlelength=2.6, handleheight=1.1,
                 borderpad=0.3, labelspacing=0.2, handletextpad=0.3, borderaxespad=0)
leg.get_frame().set_linewidth(0.8)

fig.savefig('out.png', dpi=100)
